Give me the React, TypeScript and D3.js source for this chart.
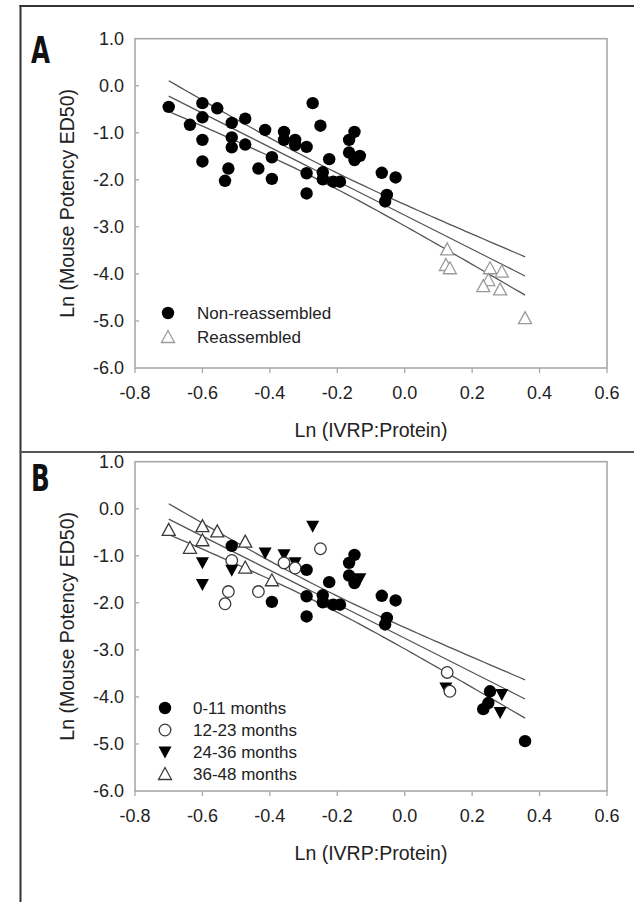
import React from 'react';
import * as d3 from 'd3';

// ---------- data ----------
const xTicks = [-0.8, -0.6, -0.4, -0.2, 0, 0.2, 0.4, 0.6];
const xTickLabels = ['-0.8', '-0.6', '-0.4', '-0.2', '0.0', '0.2', '0.4', '0.6'];
const yTicks = [1, 0, -1, -2, -3, -4, -5, -6];
const yTickLabels = ['1.0', '0.0', '-1.0', '-2.0', '-3.0', '-4.0', '-5.0', '-6.0'];

// Non-reassembled points (Ln IVRP:Protein, Ln ED50) and their age group (0..3)
const nonReX = [-0.70, -0.60, -0.556, -0.60, -0.637, -0.513, -0.473, -0.273, -0.25, -0.60,
  -0.513, -0.513, -0.473, -0.414, -0.358, -0.358, -0.325, -0.325, -0.291, -0.149,
  -0.165, -0.165, -0.149, -0.133, -0.60, -0.523, -0.533, -0.434, -0.394, -0.394,
  -0.291, -0.291, -0.224, -0.243, -0.243, -0.212, -0.192, -0.068, -0.027, -0.053, -0.058];
const nonReY = [-0.45, -0.37, -0.48, -0.67, -0.83, -0.79, -0.70, -0.37, -0.85, -1.15,
  -1.10, -1.31, -1.25, -0.94, -0.98, -1.15, -1.15, -1.26, -1.30, -0.98,
  -1.15, -1.42, -1.58, -1.49, -1.61, -1.76, -2.02, -1.76, -1.52, -1.98,
  -1.86, -2.29, -1.56, -1.84, -1.99, -2.04, -2.04, -1.85, -1.95, -2.32, -2.46];
const nonReAge = [3, 3, 3, 3, 3, 0, 3, 2, 1, 2,
  1, 2, 3, 2, 2, 1, 2, 1, 0, 0,
  0, 0, 0, 2, 2, 1, 1, 1, 3, 0,
  0, 0, 0, 0, 0, 0, 0, 0, 0, 0, 0];

// Reassembled points
const reX = [0.126, 0.122, 0.134, 0.253, 0.288, 0.248, 0.233, 0.283, 0.357];
const reY = [-3.48, -3.81, -3.88, -3.88, -3.95, -4.13, -4.26, -4.33, -4.94];
const reAge = [1, 2, 1, 0, 2, 0, 0, 2, 0];

const groupLabels = ['Non-reassembled', 'Reassembled'];
const ageLabels = ['0-11 months', '12-23 months', '24-36 months', '36-48 months'];
const ageSymbols = ['filledCircle', 'openCircle', 'filledTriDown', 'openTriUp'];

const xTitle = 'Ln (IVRP:Protein)';
const yTitle = 'Ln (Mouse Potency ED50)';

// ---------- layout ----------
const W = 634;
const H = 902;
const PANEL_OFFSET = 423;
const FONT = "'Liberation Sans', Arial, sans-serif";
const TXT = '#222';

const x = d3.scaleLinear().domain([-0.8, 0.6]).range([135, 607]);
const yBase = d3.scaleLinear().domain([1, -6]).range([38.7, 368]);

// ---------- regression (linear fit with 95% confidence band) ----------
const allX = nonReX.concat(reX);
const allY = nonReY.concat(reY);
const n = allX.length;
const xm = d3.mean(allX) as number;
const ym = d3.mean(allY) as number;
const Sxx = d3.sum(allX, (v) => (v - xm) * (v - xm));
const Sxy = d3.sum(allX.map((v, i) => (v - xm) * (allY[i] - ym)));
const slope = Sxy / Sxx;
const intercept = ym - slope * xm;
const sse = d3.sum(allX.map((v, i) => Math.pow(allY[i] - (intercept + slope * v), 2)));
const sRes = Math.sqrt(sse / (n - 2));
const tCrit = 2.01;
const xMin = d3.min(allX) as number;
const xMax = d3.max(allX) as number;
const fitXs = d3.range(0, 61).map((i) => xMin + (i * (xMax - xMin)) / 60);

function Marker({ type, cx, cy, light }: { type: string; cx: number; cy: number; light?: boolean }) {
  const stroke = light ? '#9a9a9a' : '#3a3a3a';
  if (type === 'filledCircle') return <circle cx={cx} cy={cy} r={6.2} fill="#000" />;
  if (type === 'openCircle')
    return <circle cx={cx} cy={cy} r={5.8} fill="#fff" stroke={stroke} strokeWidth={1.3} />;
  if (type === 'filledTriDown') {
    const p = `M${cx - 6.5},${cy - 5.5}L${cx + 6.5},${cy - 5.5}L${cx},${cy + 6.5}Z`;
    return <path d={p} fill="#000" />;
  }
  const p = `M${cx - 6.5},${cy + 5.5}L${cx + 6.5},${cy + 5.5}L${cx},${cy - 6.5}Z`;
  return <path d={p} fill="#fff" stroke={stroke} strokeWidth={1.3} />;
}

function Panel({ mode }: { mode: 'A' | 'B' }) {
  const off = mode === 'A' ? 0 : PANEL_OFFSET;
  const y = (v: number) => yBase(v) + off;
  const [x0, x1] = x.range();
  const top = y(1);
  const bottom = y(-6);

  const line = d3.line<[number, number]>().x((d) => x(d[0])).y((d) => y(d[1]));
  const fitPts: [number, number][] = fitXs.map((v) => [v, intercept + slope * v]);
  const band = (sign: number): [number, number][] =>
    fitXs.map((v) => [
      v,
      intercept + slope * v + sign * tCrit * sRes * Math.sqrt(1 / n + ((v - xm) * (v - xm)) / Sxx),
    ]);

  const points: JSX.Element[] = [];
  if (mode === 'A') {
    nonReX.forEach((v, i) =>
      points.push(<Marker key={'n' + i} type="filledCircle" cx={x(v)} cy={y(nonReY[i])} />)
    );
    reX.forEach((v, i) =>
      points.push(<Marker key={'r' + i} type="openTriUp" light cx={x(v)} cy={y(reY[i])} />)
    );
  } else {
    nonReX.forEach((v, i) =>
      points.push(
        <Marker key={'n' + i} type={ageSymbols[nonReAge[i]]} cx={x(v)} cy={y(nonReY[i])} />
      )
    );
    reX.forEach((v, i) =>
      points.push(<Marker key={'r' + i} type={ageSymbols[reAge[i]]} cx={x(v)} cy={y(reY[i])} />)
    );
  }

  const legendItems =
    mode === 'A'
      ? groupLabels.map((l, i) => ({ label: l, type: i === 0 ? 'filledCircle' : 'openTriUp', light: i === 1 }))
      : ageLabels.map((l, i) => ({ label: l, type: ageSymbols[i], light: false }));
  const legTop = mode === 'A' ? 313 : 285;
  const legStep = mode === 'A' ? 24 : 22;
  const symX = mode === 'A' ? 168 : 165;
  const txtX = mode === 'A' ? 197 : 193;
  const letterDy = mode === 'A' ? 0 : 5;

  return (
    <g>
      {/* panel letter */}
      <text
        transform={`translate(31,${63 + off + letterDy}) scale(0.72,1)`}
        fontFamily="'Liberation Sans Narrow', 'DejaVu Sans Condensed', Arial, sans-serif"
        fontWeight="bold"
        fontSize={38}
        fill="#111"
      >
        {mode}
      </text>

      {/* plot frame */}
      <rect x={x0} y={top} width={x1 - x0} height={bottom - top} fill="none" stroke="#a8a8a8" strokeWidth={1.6} />

      {/* y ticks */}
      {yTicks.map((v, i) => (
        <g key={'yt' + i}>
          {i > 0 && i < yTicks.length - 1 && (
            <line x1={x0} x2={x0 + 4} y1={y(v)} y2={y(v)} stroke="#a8a8a8" strokeWidth={1.3} />
          )}
          <text
            x={124}
            y={y(v)}
            dy="0.36em"
            textAnchor="end"
            fontFamily={FONT}
            fontSize={18}
            fill={TXT}
          >
            {yTickLabels[i]}
          </text>
        </g>
      ))}

      {/* x ticks */}
      {xTicks.map((v, i) => (
        <g key={'xt' + i}>
          <line x1={x(v)} x2={x(v)} y1={bottom} y2={bottom + 5} stroke="#a8a8a8" strokeWidth={1.3} />
          <text
            x={x(v)}
            y={bottom + 31}
            textAnchor="middle"
            fontFamily={FONT}
            fontSize={18}
            fill={TXT}
          >
            {xTickLabels[i]}
          </text>
        </g>
      ))}

      {/* axis titles */}
      <text
        x={(x0 + x1) / 2}
        y={bottom + 69}
        textAnchor="middle"
        fontFamily={FONT}
        fontSize={19.5}
        fill={TXT}
      >
        {xTitle}
      </text>
      <text
        transform={`translate(74,${(top + bottom) / 2}) rotate(-90)`}
        textAnchor="middle"
        fontFamily={FONT}
        fontSize={19.5}
        fill={TXT}
      >
        {yTitle}
      </text>

      {/* regression + confidence band */}
      <path d={line(band(1)) || ''} fill="none" stroke="#555" strokeWidth={1.3} />
      <path d={line(fitPts) || ''} fill="none" stroke="#555" strokeWidth={1.3} />
      <path d={line(band(-1)) || ''} fill="none" stroke="#555" strokeWidth={1.3} />

      {/* points */}
      {points}

      {/* legend */}
      {legendItems.map((it, i) => (
        <g key={'lg' + i}>
          <Marker type={it.type} light={it.light} cx={symX} cy={legTop + off + i * legStep} />
          <text
            x={txtX}
            y={legTop + off + i * legStep}
            dy="0.36em"
            fontFamily={FONT}
            fontSize={17}
            fill={TXT}
          >
            {it.label}
          </text>
        </g>
      ))}
    </g>
  );
}

export default function App() {
  return (
    <svg
      width={W}
      height={H}
      viewBox={`0 0 ${W} ${H}`}
      style={{ position: 'absolute', left: 0, top: 0, background: '#fff' }}
    >
      <rect x={0} y={0} width={W} height={H} fill="#fff" />
      {/* outer figure frame */}
      <line x1={20.5} x2={20.5} y1={5} y2={H} stroke="#333" strokeWidth={2} />
      <line x1={19.5} x2={W} y1={6} y2={6} stroke="#333" strokeWidth={2} />
      <line x1={19.5} x2={W} y1={452} y2={452} stroke="#555" strokeWidth={2} />
      <Panel mode="A" />
      <Panel mode="B" />
    </svg>
  );
}
